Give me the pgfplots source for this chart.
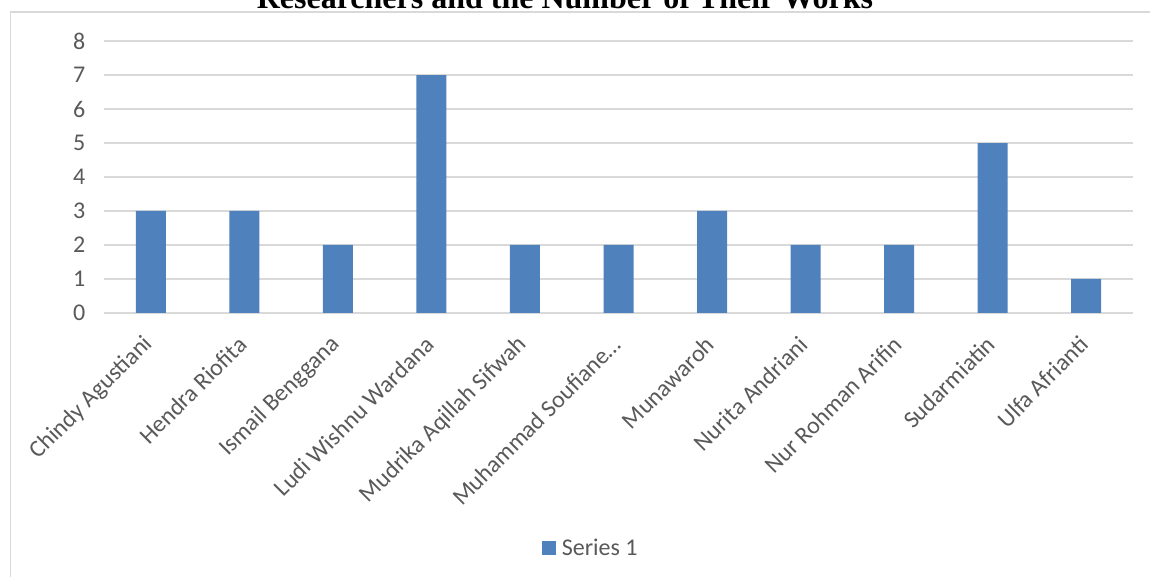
\documentclass[border=0pt]{standalone}
\usepackage{fontspec}
\setmainfont{Carlito}
\newfontfamily\titlefont{Liberation Serif}
\usepackage{pgfplots}
\pgfplotsset{compat=1.18}
\definecolor{barblue}{HTML}{4F81BD}
\definecolor{gridgray}{HTML}{D9D9D9}
\definecolor{labelgray}{HTML}{595959}
\begin{document}
\begin{tikzpicture}
\useasboundingbox (0pt,0pt) rectangle (862.5pt,432.75pt);
\clip (0pt,0pt) rectangle (862.5pt,432.75pt);
\fill[white] (0pt,0pt) rectangle (862.5pt,432.75pt);
\draw[gridgray, line width=1.1pt] (7.875pt,423.75pt) rectangle (900pt,-50pt);
\node[anchor=base, font=\titlefont\bfseries\fontsize{24pt}{28pt}\selectfont] at (423.75pt,426pt) {Researchers and the Number of Their Works};
\begin{axis}[
  at={(78pt,198pt)}, anchor=south west,
  scale only axis, width=771.75pt, height=204pt,
  xmin=-0.5, xmax=10.5, ymin=0, ymax=8,
  ybar, bar width=22.5pt,
  axis line style={draw=none},
  tick style={draw=none},
  ymajorgrids, grid style={gridgray, line width=1.1pt},
  ytick={0,1,...,8},
  xtick={0,1,...,10},
  xticklabels={Chindy Agustiani, Hendra Riofita, Ismail Benggana, Ludi Wishnu Wardana, Mudrika Aqillah Sifwah, Muhammad Soufiane…, Munawaroh, Nurita Andriani, Nur Rohman Arifin, Sudarmiatin, Ulfa Afrianti},
  /pgf/number format/assume math mode=true,
  tick label style={font=\fontsize{18pt}{21pt}\selectfont, text=labelgray},
  yticklabel style={anchor=east, xshift=-10.5pt},
  xticklabel style={xshift=1pt, yshift=-14pt, rotate=45, anchor=east},
  legend style={at={(0.4733,-0.864)}, anchor=center, draw=none, fill=none,
    font=\fontsize{18pt}{21pt}\selectfont, text=labelgray},
  legend image code/.code={\fill[barblue] (0pt,-5.25pt) rectangle (10.5pt,5.25pt); \path (13pt,0pt);},
]
\addplot[fill=barblue, draw=none] coordinates {(0,3) (1,3) (2,2) (3,7) (4,2) (5,2) (6,3) (7,2) (8,2) (9,5) (10,1)};
\addlegendentry{Series 1}
\end{axis}
\end{tikzpicture}
\end{document}
